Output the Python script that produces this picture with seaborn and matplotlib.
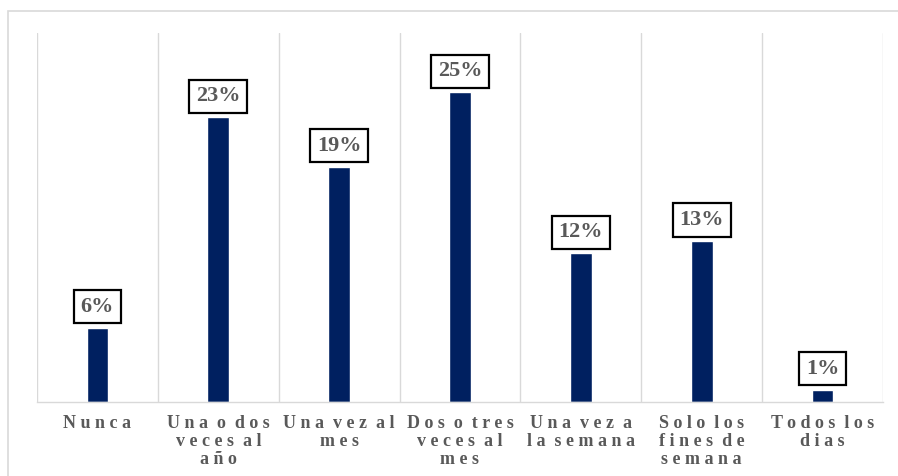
import matplotlib
matplotlib.use("Agg")
import matplotlib.pyplot as plt
from matplotlib.patches import Rectangle
import seaborn as sns
import pandas as pd

categories = ["Nunca", "Una o dos\nveces al\naño", "Una vez al\nmes",
              "Dos o tres\nveces al\nmes", "Una vez a\nla semana",
              "Solo los\nfines de\nsemana", "Todos los\ndias"]
values = [6, 23, 19, 25, 12, 13, 1]
value_labels = ["6%", "23%", "19%", "25%", "12%", "13%", "1%"]

sns.set_theme(style="white")
plt.rcParams["font.family"] = ["Liberation Serif", "DejaVu Serif"]

TEXT = "#595959"
BAR = "#002060"
GRID = "#d9d9d9"


def spaced(label):
    # widen the letter spacing of each line of a category name
    lines = []
    for line in label.split("\n"):
        words = [" ".join(w) for w in line.split(" ")]
        lines.append("  ".join(words))
    return "\n".join(lines)


df = pd.DataFrame({"cat": categories, "val": values})

fig = plt.figure(figsize=(8.98, 4.76), dpi=100)
ax = fig.add_axes([37 / 898, 1 - 402 / 476, (883 - 37) / 898, (402 - 33) / 476])

sns.barplot(data=df, x="cat", y="val", color=BAR, width=0.18,
            saturation=1, ax=ax)

ax.set_ylim(0, 29.8)
ax.set_xlim(-0.5, len(categories) - 0.5)
for i in range(len(categories) + 1):
    ax.axvline(i - 0.5, color=GRID, lw=1.0, zorder=0)
for s in ["top", "left", "right"]:
    ax.spines[s].set_visible(False)
ax.spines["bottom"].set_color(GRID)
ax.spines["bottom"].set_linewidth(1.0)
ax.set_yticks([])
ax.set_xlabel("")
ax.set_ylabel("")
ax.set_xticks(range(len(categories)))
ax.set_xticklabels([spaced(c) for c in categories], fontsize=13,
                   fontweight="bold", color=TEXT, linespacing=1.1)
ax.tick_params(axis="x", length=0, pad=9)

for i, (v, lab) in enumerate(zip(values, value_labels)):
    ax.annotate(lab, (i, v), xytext=(0, 21), textcoords="offset pixels",
                ha="center", va="center", fontsize=16, fontweight="bold",
                color=TEXT,
                bbox=dict(boxstyle="square,pad=0.3", fc="white",
                          ec="black", lw=1.6))

# outer frame of the chart area
fig.patches.append(Rectangle((8 / 898, -0.1), 1.2, 1 - 11 / 476 + 0.1,
                             transform=fig.transFigure, fill=False,
                             ec="#d9d9d9", lw=1.2))

fig.savefig("out.png", dpi=100, facecolor="white")
